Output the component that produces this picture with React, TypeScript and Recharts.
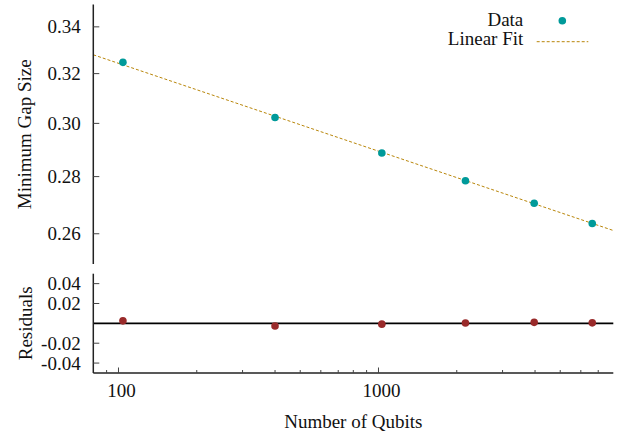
import React from 'react';
import {
  ComposedChart,
  Scatter,
  Line,
  XAxis,
  YAxis,
  ReferenceLine,
  Legend,
} from 'recharts';

// Measured minimum gap versus system size, with a power-law (log-log linear) fit
const qubits = [104, 400, 1030, 2160, 3970, 6640];
const minGap = [0.3247, 0.3023, 0.2887, 0.2785, 0.2705, 0.2635];
const residuals = [0.0025, -0.0027, -0.0008, 0.0003, 0.001, 0.0005];

// Fit line endpoints across the x range
const fitQubits = [80, 8000];
const fitGap = [0.3279, 0.2611];

// Axis ticks
const gapTicks = [0.26, 0.28, 0.3, 0.32, 0.34];
const residualTicks = [-0.04, -0.02, 0.02, 0.04];
const qubitTicks = [90, 100, 200, 300, 400, 500, 600, 700, 800, 900, 1000, 2000, 3000, 4000, 5000, 6000, 7000];
const qubitLabelTicks = [100, 1000];

const gapData = qubits.map((n, i) => ({ n, gap: minGap[i] }));
const residualData = qubits.map((n, i) => ({ n, res: residuals[i] }));
const fitData = fitQubits.map((n, i) => ({ n, fit: fitGap[i] }));

const FONT = 'Liberation Serif, Times New Roman, serif';
const FS = 19;
const TEXT_STYLE: React.CSSProperties = { fontFamily: FONT, fontSize: FS, fill: '#111' };
const FRAME = { stroke: '#222', strokeWidth: 1.5 };
const TICK_COLOR = '#444';
const TEAL = '#009a9a';
const DARK_RED = '#992a2a';
const GOLD = '#b8860b';

const X_DOMAIN: [number, number] = [80, 8000];

const LeftTick = (fmt: (v: number) => string) => (props: any) => {
  const { x, y, payload } = props;
  return (
    <g>
      <line x1={x} x2={x + 6} y1={y} y2={y} stroke={TICK_COLOR} strokeWidth={1} />
      <text x={x - 12.6} y={y + 0.34 * FS} textAnchor="end" style={TEXT_STYLE}>
        {fmt(payload.value)}
      </text>
    </g>
  );
};

const RightTick = (props: any) => {
  const { x, y } = props;
  return <line x1={x} x2={x - 6} y1={y} y2={y} stroke={TICK_COLOR} strokeWidth={1} />;
};

const BottomTick = (props: any) => {
  const { x, y, payload } = props;
  const major = qubitLabelTicks.includes(payload.value);
  return (
    <g>
      <line x1={x} x2={x} y1={y} y2={y - (major ? 5.5 : 3)} stroke={TICK_COLOR} strokeWidth={1} />
      {major && (
        <text x={x + 3} y={y + 23.7} textAnchor="middle" style={TEXT_STYLE}>
          {payload.value}
        </text>
      )}
    </g>
  );
};

const TopTick = (props: any) => {
  const { x, y, payload } = props;
  const major = qubitLabelTicks.includes(payload.value);
  return <line x1={x} x2={x} y1={y} y2={y + (major ? 5.5 : 3)} stroke={TICK_COLOR} strokeWidth={1} />;
};

const yTitle = (text: string, baseX: number) => (props: any) => {
  const vb = props.viewBox;
  const cx = vb.x + baseX;
  const cy = vb.y + vb.height / 2;
  return (
    <text x={cx} y={cy} transform={`rotate(-90, ${cx}, ${cy})`} textAnchor="middle" style={TEXT_STYLE}>
      {text}
    </text>
  );
};

const xTitle = (props: any) => {
  const vb = props.viewBox;
  return (
    <text x={vb.x + vb.width / 2} y={vb.y + 55} textAnchor="middle" style={TEXT_STYLE}>
      Number of Qubits
    </text>
  );
};

const LegendBox = () => (
  <svg width={221} height={55} style={{ display: 'block' }}>
    <text x={123.3} y={25.7} textAnchor="end" style={TEXT_STYLE}>
      Data
    </text>
    <circle cx={162.3} cy={20.7} r={3.8} fill={TEAL} />
    <text x={123.3} y={45.3} textAnchor="end" style={TEXT_STYLE}>
      Linear Fit
    </text>
    <line x1={136.7} x2={188.3} y1={41.7} y2={41.7} stroke={GOLD} strokeWidth={1} strokeDasharray="3 2" />
  </svg>
);

const dot = (color: string) => (props: any) => (
  <circle cx={props.cx} cy={props.cy} r={3.8} fill={color} />
);

export default function App() {
  return (
    <div style={{ position: 'absolute', left: 0, top: 0, width: 621, height: 435, background: '#fff' }}>
      <div style={{ position: 'absolute', left: 0, top: 0 }}>
        <ComposedChart width={621} height={268} margin={{ top: 4.5, right: 7.7, bottom: 4, left: 0 }}>
          <XAxis
            dataKey="n"
            type="number"
            scale="log"
            domain={X_DOMAIN}
            allowDataOverflow
            height={0}
            tick={false}
            tickLine={false}
            axisLine={FRAME}
          />
          <XAxis
            xAxisId="t"
            orientation="top"
            dataKey="n"
            type="number"
            scale="log"
            domain={X_DOMAIN}
            allowDataOverflow
            height={0}
            tick={false}
            tickLine={false}
            axisLine={FRAME}
          />
          <YAxis
            type="number"
            scale="log"
            domain={[0.25, 0.35]}
            allowDataOverflow
            ticks={gapTicks}
            interval={0}
            width={93.3}
            tickSize={0}
            tickMargin={0}
            tickLine={false}
            tick={LeftTick((v) => v.toFixed(2))}
            axisLine={FRAME}
            label={{ content: yTitle('Minimum Gap Size', 31) }}
          />
          <YAxis
            yAxisId="r"
            orientation="right"
            type="number"
            scale="log"
            domain={[0.25, 0.35]}
            allowDataOverflow
            ticks={gapTicks}
            interval={0}
            width={0}
            tickSize={0}
            tickMargin={0}
            tickLine={false}
            tick={RightTick}
            axisLine={FRAME}
          />
          <Line
            data={fitData}
            dataKey="fit"
            type="linear"
            stroke={GOLD}
            strokeWidth={1}
            strokeDasharray="3 2"
            dot={false}
            activeDot={false}
            isAnimationActive={false}
          />
          <Scatter data={gapData} dataKey="gap" fill={TEAL} shape={dot(TEAL)} isAnimationActive={false} />
          <Legend
            content={LegendBox}
            layout="horizontal"
            verticalAlign="middle"
            align="center"
            wrapperStyle={{ left: 400, top: 0, width: 221, height: 55 }}
          />
        </ComposedChart>
      </div>
      <div style={{ position: 'absolute', left: 0, top: 268 }}>
        <ComposedChart width={621} height={167} margin={{ top: 5.7, right: 7.7, bottom: 0, left: 0 }}>
          <XAxis
            dataKey="n"
            type="number"
            scale="log"
            domain={X_DOMAIN}
            allowDataOverflow
            ticks={qubitTicks}
            interval={0}
            height={62}
            tickSize={0}
            tickMargin={0}
            tickLine={false}
            tick={BottomTick}
            axisLine={FRAME}
            label={{ content: xTitle }}
          />
          <XAxis
            xAxisId="t"
            orientation="top"
            dataKey="n"
            type="number"
            scale="log"
            domain={X_DOMAIN}
            allowDataOverflow
            ticks={qubitTicks}
            interval={0}
            height={0}
            tickSize={0}
            tickMargin={0}
            tickLine={false}
            tick={TopTick}
            axisLine={FRAME}
          />
          <YAxis
            type="number"
            domain={[-0.05, 0.05]}
            allowDataOverflow
            ticks={residualTicks}
            interval={0}
            width={93.3}
            tickSize={0}
            tickMargin={0}
            tickLine={false}
            tick={LeftTick((v) => v.toFixed(2))}
            axisLine={FRAME}
            label={{ content: yTitle('Residuals', 32) }}
          />
          <YAxis
            yAxisId="r"
            orientation="right"
            type="number"
            domain={[-0.05, 0.05]}
            allowDataOverflow
            ticks={residualTicks}
            interval={0}
            width={0}
            tickSize={0}
            tickMargin={0}
            tickLine={false}
            tick={RightTick}
            axisLine={FRAME}
          />
          <ReferenceLine y={0} stroke="#000" strokeWidth={1.8} />
          <Scatter data={residualData} dataKey="res" fill={DARK_RED} shape={dot(DARK_RED)} isAnimationActive={false} />
        </ComposedChart>
      </div>
    </div>
  );
}
